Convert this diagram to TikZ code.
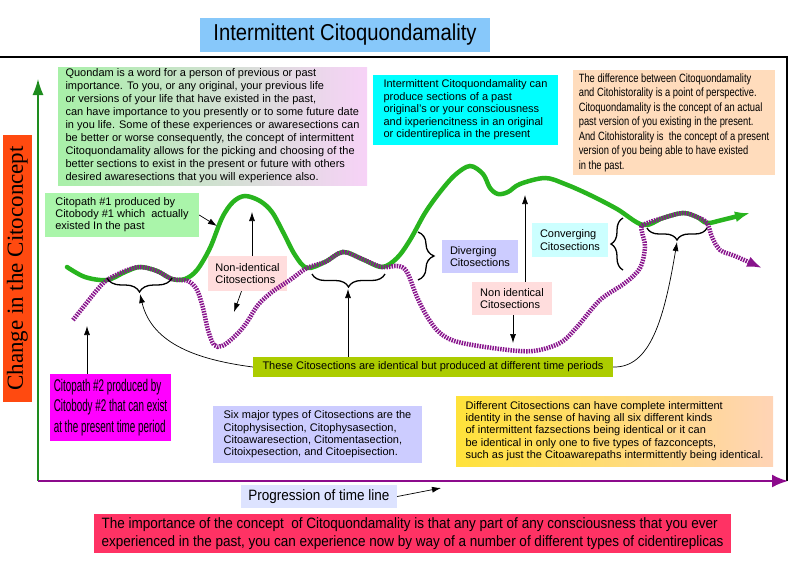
\documentclass[tikz,border=0pt]{standalone}
\usepackage{fontspec}
\setmainfont{Liberation Sans}
\newfontfamily\labelserif{Liberation Serif}
\newfontfamily\titlefont[FakeStretch=0.88]{Liberation Sans}
\newfontfamily\narrowfont[FakeStretch=0.78]{Liberation Sans}
\newfontfamily\widefont[FakeStretch=0.9]{Liberation Sans}
\newfontfamily\tallfont[FakeStretch=0.58]{Liberation Sans}
\usetikzlibrary{arrows.meta,decorations.pathreplacing}

\definecolor{titleblue}{RGB}{135,200,250}
\definecolor{axisred}{RGB}{255,74,16}
\definecolor{qgreen}{RGB}{168,240,168}
\definecolor{qpink}{RGB}{247,210,247}
\definecolor{brightcyan}{RGB}{0,255,255}
\definecolor{peach}{RGB}{255,220,188}
\definecolor{lightgreen}{RGB}{170,245,170}
\definecolor{lightpink}{RGB}{255,221,221}
\definecolor{lavender}{RGB}{204,204,255}
\definecolor{lightcyan}{RGB}{204,255,255}
\definecolor{barolive}{RGB}{172,204,0}
\definecolor{brightmagenta}{RGB}{255,0,255}
\definecolor{pathgreen}{RGB}{40,180,30}
\definecolor{pathpurple}{RGB}{136,20,140}
\definecolor{axisgreen}{RGB}{30,140,30}
\definecolor{axispurple}{RGB}{140,10,140}
\definecolor{progblue}{RGB}{221,227,255}
\definecolor{bottomred}{RGB}{255,50,100}
\definecolor{ylwleft}{RGB}{255,226,58}
\definecolor{ylwmid}{RGB}{255,250,20}
\definecolor{ylwright}{RGB}{255,212,182}

\tikzset{
  txtbox/.style={inner sep=0pt, align=left, font=\fontsize{11}{12.5}\selectfont},
  ptr/.style={-{Latex[length=9pt,width=6pt]}, line width=0.7pt},
  brc/.style={decorate, decoration={brace, amplitude=#1}, line width=1.3pt},
  citopath/.style={line width=4.5pt, -{Latex[length=15pt,width=11pt]}},
}

\begin{document}
\begin{tikzpicture}[x=1pt,y=-1pt]
\useasboundingbox (0,0) rectangle (800,560);

% frame and axes
\draw[line width=1.5pt] (0,57) -- (787,57) -- (787,481);
\coordinate (origin) at (38,481);
\coordinate (ytop) at (38,79);
\coordinate (xend) at (788,481);
\draw[axisgreen, line width=1.4pt, -{Latex[length=16pt,width=11pt]}] (origin) -- (ytop);
\draw[axispurple, line width=2.2pt, -{Latex[length=16pt,width=13pt]}] (origin) -- (xend);

\node[fill=titleblue, minimum width=290pt, minimum height=34pt, inner sep=0pt,
  font=\titlefont\fontsize{23}{26}\selectfont] (title) at (345,35) {Intermittent Citoquondamality};
\node[fill=axisred, rotate=90, minimum width=267pt, minimum height=29pt, inner sep=0pt,
  font=\labelserif\fontsize{23}{26}\selectfont] (ylabel) at (17.5,268.5) {Change in the Citoconcept};

% text boxes
\node[txtbox, left color=qgreen, right color=qpink, minimum width=309pt, minimum height=118pt,
  font=\fontsize{11}{13}\selectfont] (quondam) at (212.5,126)
  {Quondam is a word for a person of previous or past\\
   importance. To you, or any original, your previous life\\
   or versions of your life that have existed in the past,\\
   can have importance to you presently or to some future date\\
   in you life. Some of these experiences or awaresections can\\
   be better or worse consequently, the concept of intermittent\\
   Citoquondamality allows for the picking and choosing of the\\
   better sections to exist in the present or future with others\\
   desired awaresections that you will experience also.};
\node[txtbox, fill=brightcyan, minimum width=185pt, minimum height=70pt] (produce) at (465.5,110)
  {Intermittent Citoquondamality can\\
   produce sections of a past\\
   original's or your consciousness\\
   and ixperiencitness in an original\\
   or cidentireplica in the present};
\node[txtbox, fill=peach, minimum width=202pt, minimum height=105pt,
  font=\narrowfont\fontsize{12}{14.5}\selectfont] (difference) at (674,122.5)
  {The difference between Citoquondamality\\
   and Citohistorality is a point of perspective.\\
   Citoquondamality is the concept of an actual\\
   past version of you existing in the present.\\
   And Citohistorality is \ the concept of a present\\
   version of you being able to have existed\\
   in the past.};
\node[txtbox, fill=lightgreen, minimum width=154pt, minimum height=44pt,
  font=\fontsize{11}{12}\selectfont] (citopath1) at (122,215)
  {Citopath \#1 produced by\\
   Citobody \#1 which \ actually\\
   existed In the past};
\node[txtbox, fill=lightpink, minimum width=79pt, minimum height=35pt] (nonid1) at (247.5,273.5)
  {Non-identical\\Citosections};
\node[txtbox, fill=lavender, minimum width=76pt, minimum height=33pt] (diverging) at (480,256.5)
  {Diverging\\Citosections};
\node[txtbox, fill=lightcyan, minimum width=76pt, minimum height=34pt] (converging) at (570,240)
  {Converging\\Citosections};
\node[txtbox, fill=lightpink, minimum width=80pt, minimum height=33pt] (nonid2) at (512,298.5)
  {Non identical\\Citosections};
\node[txtbox, fill=barolive, minimum width=360pt, minimum height=20pt] (identical) at (433,367)
  {These Citosections are identical but produced at different time periods};
\node[txtbox, fill=brightmagenta, minimum width=121pt, minimum height=67pt,
  font=\tallfont\fontsize{17}{20.5}\selectfont] (citopath2) at (110.5,407.5)
  {Citopath \#2 produced by\\
   Citobody \#2 that can exist\\
   at the present time period};
\node[txtbox, fill=lavender, minimum width=209pt, minimum height=57pt,
  font=\fontsize{11}{12.4}\selectfont] (sixtypes) at (317.5,434.5)
  {Six major types of Citosections are the\\
   Citophysisection, Citophysasection,\\
   Citoawaresection, Citomentasection,\\
   Citoixpesection, and Citoepisection.};
\node[txtbox, left color=ylwleft, middle color=ylwmid, right color=ylwright,
  minimum width=317pt, minimum height=70pt, font=\fontsize{11}{12.3}\selectfont] (different) at (614.5,431)
  {Different Citosections can have complete intermittent\\
   identity in the sense of having all six different kinds\\
   of intermittent fazsections being identical or it can\\
   be identical in only one to five types of fazconcepts,\\
   such as just the Citoawarepaths intermittently being identical.};
\node[txtbox, fill=progblue, minimum width=156pt, minimum height=23pt,
  font=\widefont\fontsize{15}{16}\selectfont] (timeline) at (319,496.5)
  {Progression of time line};
\node[txtbox, fill=bottomred, minimum width=637pt, minimum height=39pt,
  font=\widefont\fontsize{15}{18}\selectfont] (importance) at (412.5,533.5)
  {The importance of the concept \ of Citoquondamality is that any part of any consciousness that you ever\\
   experienced in the past, you can experience now by way of a number of different types of cidentireplicas};

% the two citopaths
\draw[pathgreen, citopath, line cap=round] plot[smooth, tension=0.55] coordinates {
  (67,267) (85,277) (107,280) (125,272) (140,267) (157,271) (172,279) (185,279)
  (197,270) (210,248) (222,218) (233,202) (245,196) (260,201) (272,212) (283,232)
  (295,255) (307,268) (325,262) (343,252) (362,259) (382,267) (397,258) (410,240)
  (425,213) (440,192) (455,175) (470,166) (483,174) (490,188) (498,194) (508,192)
  (520,184) (545,178) (565,184) (590,195) (617,209) (643,225) (663,218) (683,213)
  (697,217) (707,223) (722,220) (750,213)};
\draw[pathpurple, citopath, dash pattern=on 1.5pt off 1.1pt] plot[smooth, tension=0.55] coordinates {
  (73,320) (85,305) (97,290) (107,280) (125,271) (140,267) (157,271) (172,279)
  (188,281) (197,290) (203,308) (208,330) (214,345) (222,346) (233,338) (245,325)
  (258,305) (272,292) (290,280) (307,268) (325,262) (343,252) (362,259) (382,267)
  (398,266) (407,272) (417,297) (428,318) (440,333) (458,342) (500,349) (533,351)
  (560,343) (577,327) (600,300) (625,283) (640,268) (645,247) (642,232) (643,225)
  (663,218) (683,213) (697,217) (707,223) (712,237) (720,250) (735,256) (762,268)};

% braces
\draw[brc=14pt] (172,278) -- (107,278);
\draw[brc=13pt] (385,274) -- (312,274);
\draw[brc=12pt] (707,228) -- (647,228);
\draw[brc=16pt] (418,232) -- (418,280);
\draw[brc=12pt] (623,270) -- (623,218);

% pointers
\coordinate (tip1) at (140,294);
\coordinate (tip2) at (348,289);
\coordinate (tip3) at (677,242);
\coordinate (g1) at (217,226);
\coordinate (g2) at (252,212);
\coordinate (g3) at (525,195);
\coordinate (p0) at (87,326);
\coordinate (p1) at (234,312);
\coordinate (p2) at (513,343);
\coordinate (t1) at (441,488);
\draw[ptr] (identical.west) .. controls (200,360) and (152,345) .. (tip1);
\draw[ptr] (identical.north -| tip2) -- (tip2);
\draw[ptr] (identical.east) .. controls (650,368) and (664,320) .. (tip3);
\draw[ptr] (citopath1.east) -- (g1);
\draw[ptr] (nonid1.north -| g2) -- (g2);
\draw[ptr] ([xshift=-6pt]nonid1.south) -- (p1);
\draw[ptr] (nonid2.north -| g3) -- (g3);
\draw[ptr] (nonid2.south -| p2) -- (p2);
\draw[ptr] (citopath2.north -| p0) -- (p0);
\draw[ptr] (timeline.east) -- (t1);
\end{tikzpicture}
\end{document}
